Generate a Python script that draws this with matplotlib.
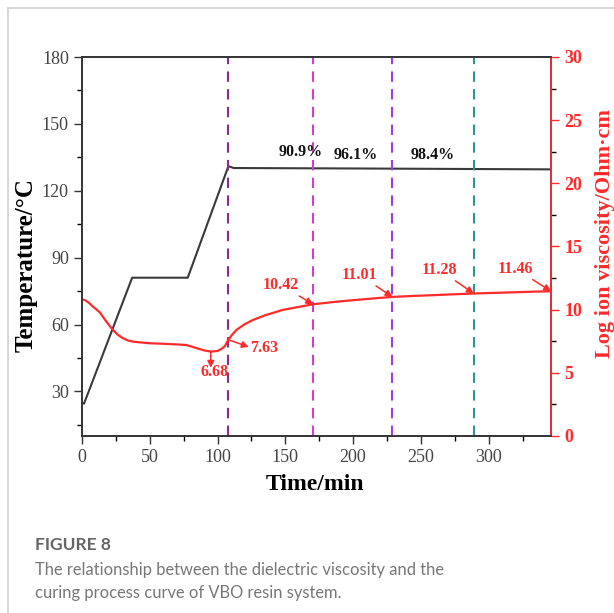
import matplotlib.pyplot as plt
from matplotlib.lines import Line2D

# temperature program (left axis)
t_temp = [0, 1.5, 37, 78, 108, 112, 200, 346]
temp = [25, 24.5, 81, 81, 131, 130.2, 130, 129.6]

# log ion viscosity (right axis)
t_visc = [0, 2.5, 5, 8, 13, 18, 22, 26, 30, 34, 37.6, 44, 50, 60, 70, 77, 81, 85, 90, 95,
          100, 103, 105.5, 108, 111, 114, 120, 126, 135, 148, 160, 170, 185, 200,
          215, 229, 245, 260, 275, 289, 305, 320, 335, 346]
visc = [10.82, 10.74, 10.55, 10.25, 9.8, 9.05, 8.5, 8.05, 7.75, 7.56, 7.47, 7.4, 7.34, 7.3,
        7.25, 7.2, 7.08, 6.94, 6.78, 6.68, 6.73, 6.9, 7.13, 7.63, 8.05, 8.4, 8.85, 9.18, 9.55,
        9.98, 10.22, 10.42, 10.6, 10.75, 10.89, 11.01, 11.09, 11.15, 11.22, 11.28, 11.33,
        11.38, 11.43, 11.46]

# stage markers and degree of cure
stage_t = [108, 170.5, 229, 289]
stage_colors = ['#8E2A8E', '#D23CD2', '#9B3CF0', '#2E9494']
cure_labels = ['90.9%', '96.1%', '98.4%']
cure_pos = [(161, 133.8), (202, 132.5), (258.6, 132.5)]

visc_labels = ['10.42', '11.01', '11.28', '11.46']
visc_pts = [(170.5, 10.42), (229, 11.01), (289, 11.28), (346, 11.46)]
visc_txt = [(147, 11.3), (205, 12.1), (264, 12.5), (320, 12.6)]

serif = 'Liberation Serif'
red = '#FF2A2A'

fig = plt.figure(figsize=(6.14, 6.13), dpi=100)
ax = fig.add_axes([82 / 614, 1 - 436 / 613, 469 / 614, 379 / 613])
ax2 = ax.twinx()

ax.plot(t_temp, temp, color='#3a3a3a', lw=1.5)
ax2.plot(t_visc, visc, color=red, lw=1.6)

for x, c in zip(stage_t, stage_colors):
    ax.axvline(x, color=c, lw=1.5, ls=(0, (5, 3.5)))

for s, (x, y) in zip(cure_labels, cure_pos):
    ax.text(x, y, s, ha='center', va='bottom', family=serif, fontweight='bold',
            fontsize=11.5, color='#111111')

arrow = dict(arrowstyle='-|>', color=red, lw=1.1, mutation_scale=10, shrinkA=0, shrinkB=0)
for s, p, tp in zip(visc_labels, visc_pts, visc_txt):
    ax2.annotate(s, xy=p, xytext=tp, ha='center', va='bottom', family=serif,
                 fontweight='bold', fontsize=11.5, color=red, arrowprops=arrow)

ax2.annotate('', xy=(123, 7.05), xytext=(108.5, 7.6), arrowprops=arrow)
ax2.text(124, 7.0, '7.63', ha='left', va='center', family=serif, fontweight='bold',
         fontsize=11.5, color=red)
ax2.annotate('', xy=(95, 5.4), xytext=(95, 6.66), arrowprops=arrow)
ax2.text(98, 5.1, '6.68', ha='center', va='center', family=serif, fontweight='bold',
         fontsize=11.5, color=red)

ax.set_xlim(0, 346)
ax.set_ylim(10, 180)
ax2.set_ylim(0, 30)
ax.set_xticks([0, 50, 100, 150, 200, 250, 300])
ax.set_xticks([25, 75, 125, 175, 225, 275, 325], minor=True)
ax.set_yticks([30, 60, 90, 120, 150, 180])
ax.set_yticks([15, 45, 75, 105, 135, 165], minor=True)
ax2.set_yticks([0, 5, 10, 15, 20, 25, 30])
ax2.set_yticks([2.5, 7.5, 12.5, 17.5, 22.5, 27.5], minor=True)

for a in (ax, ax2):
    a.tick_params(which='major', length=6, width=1, direction='out')
    a.tick_params(which='minor', length=3.5, width=1, direction='out')
ax.tick_params(axis='both', labelsize=13, labelcolor='#444444', colors='#333333')
for lab in ax.get_xticklabels() + ax.get_yticklabels():
    lab.set_family(serif)
ax2.tick_params(axis='y', colors=red, labelsize=13)
for lab in ax2.get_yticklabels():
    lab.set_family(serif)
    lab.set_fontweight('bold')

for a in (ax, ax2):
    for sp in a.spines.values():
        sp.set_linewidth(1.2)
        sp.set_color('#333333')
ax2.spines['right'].set_color(red)

ax.set_xlabel('Time/min', family=serif, fontweight='bold', fontsize=17)
ax.xaxis.set_label_coords(0.497, -0.1)
ax.set_ylabel('Temperature/°C', family=serif, fontweight='bold', fontsize=18)
ax.yaxis.set_label_coords(-0.094, 0.45)
ax2.set_ylabel('Log ion viscosity/Ohm·cm', family=serif, fontweight='bold', fontsize=16,
               color=red)
ax2.yaxis.set_label_coords(1.094, 0.535)

# page frame and caption
fig.add_artist(Line2D([7.5 / 614, 7.5 / 614], [0, 1 - 8 / 613], color='#d0d0d0', lw=1.2))
fig.add_artist(Line2D([7.5 / 614, 1], [1 - 8 / 613, 1 - 8 / 613], color='#d0d0d0', lw=1.2))
fig.text(35 / 614, 1 - 545 / 613, 'FIGURE 8', family='Lato', fontsize=12.5,
         color='#666666', va='center', fontweight='bold')
fig.text(35 / 614, 1 - 570 / 613, 'The relationship between the dielectric viscosity and the',
         family='Lato', fontsize=11.9, color='#777777', va='center')
fig.text(35 / 614, 1 - 593 / 613, 'curing process curve of VBO resin system.',
         family='Lato', fontsize=11.9, color='#777777', va='center')

fig.savefig('out.png', dpi=100)
